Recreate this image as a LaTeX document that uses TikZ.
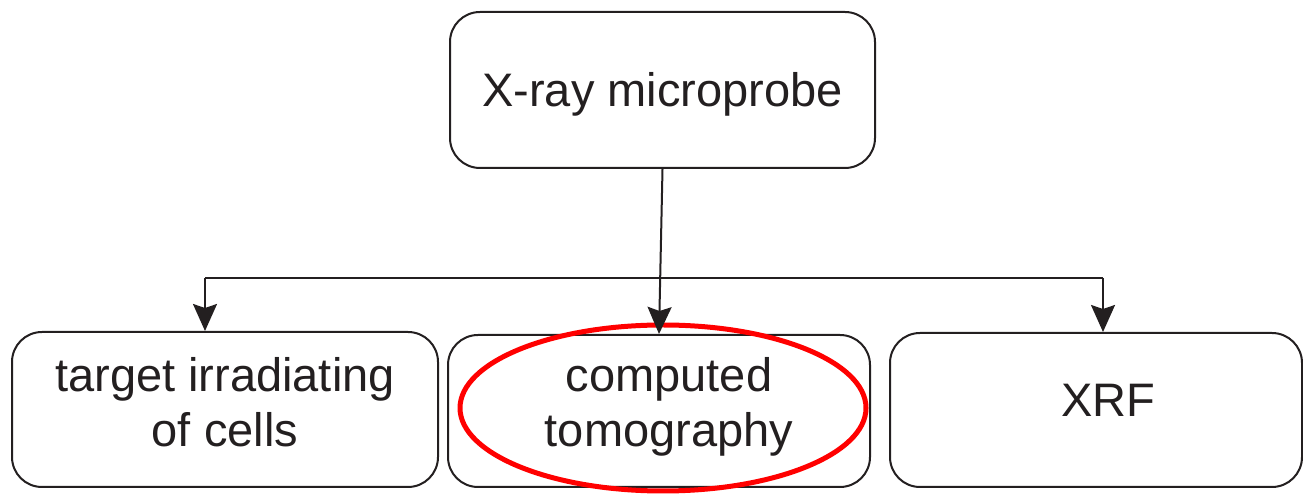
\documentclass[tikz,border=0pt]{standalone}
\usepackage{fontspec}
\setmainfont{Liberation Sans}
\usepackage{tikz}
\usetikzlibrary{shapes,arrows.meta}
\definecolor{ink}{HTML}{231F20}
\tikzstyle{block} = [rectangle, draw=ink, text=ink, line width=2pt,
    rounded corners=30pt, align=center, inner sep=0pt,
    font=\fontsize{47}{55}\selectfont]
\tikzstyle{line} = [draw=ink, line width=2pt]
\tikzstyle{arrow} = [line, -{Stealth[length=27pt,width=24pt,inset=4pt]}]
\tikzstyle{oval} = [ellipse, draw=red, line width=5pt, inner sep=0pt]

\begin{document}
\begin{tikzpicture}[x=1pt, y=1pt]
  \useasboundingbox (0,0) rectangle (1303,494);
  % Place nodes
  \node [block, minimum width=425pt, minimum height=156pt,
    text height=34pt, text depth=0pt] (probe) at (662.5,404)
  {X-ray microprobe};
  \node [block, minimum width=426pt, minimum height=155pt,
    text height=90pt, text depth=15pt] (target) at (225,84.5)
  {target irradiating\\of cells};
  \node [block, minimum width=422pt, minimum height=152pt,
    text height=90pt, text depth=18pt] (tomo) at (659,83)
  {\hspace*{20pt}computed\\\hspace*{20pt}tomography};
  \node [block, minimum width=412pt, minimum height=154pt,
    text height=34pt, text depth=20pt] (xrf) at (1096,84)
  {\hspace*{24pt}XRF};
  \node [oval, minimum width=406pt, minimum height=166pt] (mark) at (663,86) {};
  \coordinate (split left) at (205,216);
  \coordinate (split right) at (1103,216);
  % Draw edges
  \draw [arrow] (probe.south) -- (tomo.north);
  \draw [line] (split left) -- (split right);
  \draw [arrow] (split left) -- (split left |- target.north);
  \draw [arrow] (split right) -- (split right |- xrf.north);
\end{tikzpicture}
\end{document}
